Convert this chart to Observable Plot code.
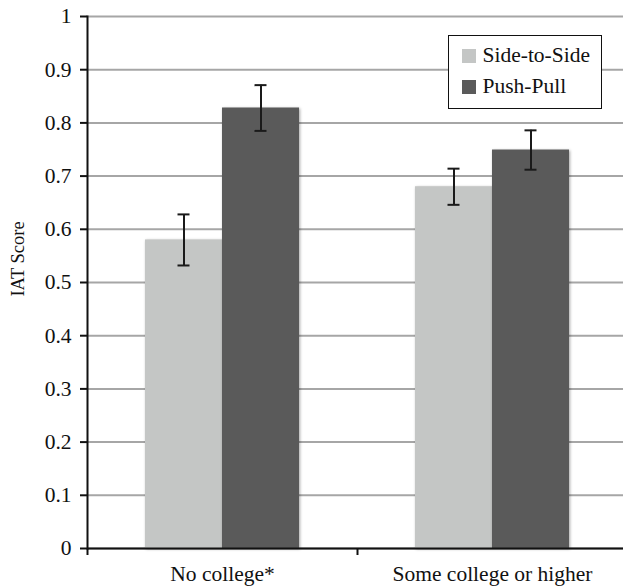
<!DOCTYPE html>
<html>
<head>
<meta charset="utf-8">
<script src="https://cdn.jsdelivr.net/npm/d3@7"></script>
<script src="https://cdn.jsdelivr.net/npm/@observablehq/plot@0.6"></script>
<style>
html, body { margin: 0; padding: 0; background: #fff; overflow: hidden; }
#wrap { position: relative; width: 623px; height: 588px; }
#wrap, #wrap * { font-family: "Liberation Serif", "Times New Roman", "DejaVu Serif", serif !important; }
g[aria-label="bar"] rect { filter: drop-shadow(1px 1px 1.5px rgba(0,0,0,0.35)); }
#legend { position: absolute; left: 448px; top: 35px; width: 152px; height: 68px; border: 1.5px solid #111; background: #fff;
  font-size: 21.5px; color: #111; padding-top: 4px; box-sizing: content-box; }
#legend .row { display: flex; align-items: center; height: 31px; padding-left: 12.5px; }
#legend .sw { width: 14px; height: 14px; margin-right: 7px; flex: none; }
</style>
</head>
<body>
<div id="wrap"></div>
<script>
// ---- data ----
const groups = ["No college*", "Some college or higher"];
const series = ["Side-to-Side", "Push-Pull"];
const sideValues = [0.58, 0.68];
const sideErrors = [0.048, 0.034];
const pushValues = [0.828, 0.749];
const pushErrors = [0.043, 0.037];
const yTicks = [0, 0.1, 0.2, 0.3, 0.4, 0.5, 0.6, 0.7, 0.8, 0.9, 1];
const yTickLabels = ["0", "0.1", "0.2", "0.3", "0.4", "0.5", "0.6", "0.7", "0.8", "0.9", "1"];
const yLabel = "IAT Score";
const colors = ["#c4c6c5", "#5a5a5a"];

const data = [];
groups.forEach((g, i) => {
  data.push({group: g, series: series[0], value: sideValues[i], err: sideErrors[i]});
  data.push({group: g, series: series[1], value: pushValues[i], err: pushErrors[i]});
});

const W = 623, H = 588, ML = 87, MR = -4, MT = 16, MB = 40;
const facetW = (W - ML - MR) / groups.length;
const ink = "#111";
const serif = "'Liberation Serif', 'Times New Roman', serif";
const fs = 21.5;

const chart = Plot.plot({
  width: W, height: H,
  marginLeft: ML, marginRight: MR, marginTop: MT, marginBottom: MB,
  style: {fontFamily: serif, fontSize: fs + "px", color: ink, background: "#fff", overflow: "visible"},
  fx: {domain: groups, padding: 0, label: null},
  x: {domain: series, paddingInner: 0, paddingOuter: 0.753, axis: null},
  y: {domain: [0, 1], label: null},
  color: {domain: series, range: colors},
  marks: [
    Plot.gridY(yTicks, {stroke: "#a6a6a6", strokeOpacity: 1, strokeWidth: 2}),
    Plot.barY(data, {fx: "group", x: "series", y: "value", fill: "series"}),
    Plot.ruleX(data, {fx: "group", x: "series", y1: d => d.value - d.err, y2: d => d.value + d.err, stroke: "#1a1a1a", strokeWidth: 2}),
    Plot.tickY(data, {fx: "group", x: "series", y: d => d.value - d.err, stroke: "#1a1a1a", strokeWidth: 2, insetLeft: 32.5, insetRight: 32.5}),
    Plot.tickY(data, {fx: "group", x: "series", y: d => d.value + d.err, stroke: "#1a1a1a", strokeWidth: 2, insetLeft: 32.5, insetRight: 32.5}),
    Plot.ruleY([0], {stroke: ink, strokeWidth: 2}),
    Plot.frame({anchor: "left", facet: "super", stroke: ink, strokeWidth: 2}),
    Plot.axisY({ticks: yTicks, tickFormat: (d, i) => yTickLabels[i], tickSize: 7, tickPadding: 9, stroke: ink, strokeWidth: 2, label: null, fontSize: fs, fontFamily: serif}),
    Plot.axisFx({anchor: "bottom", tickSize: 0, tickPadding: 17, label: null, fontSize: fs, fontFamily: serif}),
    Plot.axisFx({anchor: "bottom", tickSize: 7, tickFormat: () => "", dx: -facetW / 2, label: null, stroke: ink, strokeWidth: 2}),
    Plot.text([{group: groups[0], label: yLabel}], {fx: "group", text: "label", frameAnchor: "left", textAnchor: "middle", lineAnchor: "middle", rotate: -90, dx: -69, dy: -23.5, fontSize: 18.5, fontFamily: serif, fill: ink})
  ]
});

const wrap = document.getElementById("wrap");
wrap.appendChild(chart);

const legend = document.createElement("div");
legend.id = "legend";
series.forEach((s, i) => {
  const row = document.createElement("div");
  row.className = "row";
  const sw = document.createElement("span");
  sw.className = "sw";
  sw.style.background = colors[i];
  const t = document.createElement("span");
  t.textContent = s;
  row.appendChild(sw);
  row.appendChild(t);
  legend.appendChild(row);
});
wrap.appendChild(legend);
</script>
</body>
</html>
